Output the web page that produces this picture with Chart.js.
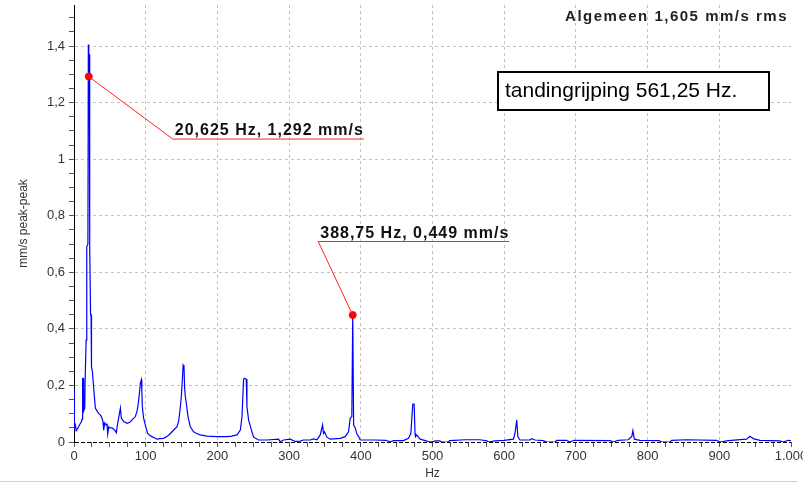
<!DOCTYPE html>
<html>
<head>
<meta charset="utf-8">
<script src="https://cdn.jsdelivr.net/npm/chart.js@4/dist/chart.umd.min.js"></script>
<style>
  html, body { margin: 0; padding: 0; background: #fff; overflow: hidden; }
</style>
</head>
<body>
<canvas id="spectrum" width="803" height="483"></canvas>
<script>
// spectrum (Hz / mm/s peak-peak)
const freqs = [
  0, 0.6, 1.9, 3.1, 5, 7.5, 10, 11.2, 12.0, 12.6, 13.5, 15.0, 15.6, 16.9, 17.5, 18.1, 19.4,
  20.0, 20.625, 21.25, 21.9, 23.1, 23.8, 24.4, 25.6, 27.5, 29.8, 32, 34.5, 37, 39, 40.5,
  41.4, 42.8, 45, 46, 47, 48.4, 50, 53, 55, 56.8, 59, 60.5, 62.3, 64.7, 66, 69.3, 74, 78,
  81, 85.6, 88, 89.3, 91, 92.5, 94, 94.6, 95.3, 97, 99.5, 102.7, 105.5, 108.8, 115.8, 120,
  125, 130, 134.4, 140, 143.7, 146, 147.3, 149.7, 151.5, 152.2, 153.4, 154.3, 155.3, 157,
  159, 162.2, 166.8, 171, 176, 185.5, 199.4, 213.4, 220, 227.3, 232, 234.3, 236.5, 237.5,
  240.3, 241.2, 243.5, 246.8, 250.5, 257.4, 269, 285.3, 287.7, 292.3, 301.6, 308.6, 315.5,
  320, 329.5, 334, 338.8, 343.4, 346.7, 348, 349.4, 352.7, 357.4, 371.3, 378.3, 382.9,
  385.2, 387.5, 388.75, 390, 392.2, 394.6, 396.8, 399.2, 420, 435, 441, 445.6, 459.5,
  466.5, 469.8, 472.5, 474.4, 475.6, 476.3, 478, 480.4, 482.8, 489.8, 496.7, 501.3, 505,
  510, 513, 522.2, 523.6, 545.5, 566, 576, 578, 587, 600, 612.8, 615, 617.5, 619, 622,
  636, 638.4, 643, 654.6, 659.4, 671, 673.3, 687, 692, 697, 748, 752, 759, 773, 778,
  779.5, 781.5, 789.4, 816, 820, 831, 833.6, 854.5, 896, 901, 912.5, 938, 942.7, 947.3,
  956.7, 984.5, 989, 996, 1000
];
const amps = [
  0.185, 0.05, 0.06, 0.04, 0.047, 0.06, 0.07, 0.08, 0.225, 0.225, 0.11, 0.12, 0.225, 0.36, 0.6, 0.69, 0.7,
  1.405, 1.37, 1.37, 0.69, 0.45, 0.45, 0.265, 0.25, 0.19, 0.12, 0.11, 0.10, 0.095, 0.085, 0.07,
  0.042, 0.067, 0.06, 0.065, 0.028, 0.054, 0.05, 0.05, 0.046, 0.042, 0.033, 0.06, 0.085, 0.12, 0.085, 0.072, 0.066, 0.07,
  0.078, 0.09, 0.11, 0.13, 0.166, 0.207, 0.22, 0.18, 0.125, 0.085, 0.06, 0.03, 0.024, 0.019, 0.01, 0.012,
  0.013, 0.02, 0.03, 0.045, 0.054, 0.075, 0.10, 0.16, 0.237, 0.272, 0.266, 0.19, 0.16, 0.13,
  0.09, 0.054, 0.036, 0.03, 0.025, 0.021, 0.019, 0.019, 0.021, 0.025, 0.042, 0.09, 0.22, 0.225,
  0.222, 0.125, 0.078, 0.048, 0.017, 0.007, 0.007, 0.01, 0.001, 0.007, 0.01, 0.002, 0.003,
  0.007, 0.007, 0.011, 0.008, 0.025, 0.06, 0.03, 0.036, 0.017, 0.01, 0.013, 0.019, 0.036,
  0.084, 0.09, 0.449, 0.06, 0.05, 0.028, 0.02, 0.007, 0.007, 0.006, 0.001, 0.005, 0.005,
  0.013, 0.03, 0.134, 0.134, 0.03, 0.019, 0.025, 0.017, 0.01, 0.005, 0, 0.002, 0.004,
  0.004, 0, 0, 0.005, 0.008, 0.008, 0.004, 0, 0.004, 0.006, 0.01, 0.03, 0.078, 0.019, 0.007,
  0.007, 0.012, 0.007, 0.005, 0, 0, 0.006, 0.006, 0, 0.006, 0.005, 0, 0.006, 0.008, 0.02,
  0.04, 0.01, 0.006, 0.005, 0, 0, 0.006, 0.008, 0.006, 0, 0.005, 0.01, 0.02, 0.012,
  0.006, 0.004, 0, 0.006, 0.005
];

// marked peaks
const peakFreqs = [20.625, 388.75];
const peakAmps = [1.292, 0.449];
const peakLabels = ["20,625 Hz, 1,292 mm/s", "388,75 Hz, 0,449 mm/s"];

const overallText = "Algemeen 1,605 mm/s rms";
const noteText = "tandingrijping 561,25 Hz.";

const xTickValues = [0, 100, 200, 300, 400, 500, 600, 700, 800, 900, 1000];
const xTickLabels = ["0", "100", "200", "300", "400", "500", "600", "700", "800", "900", "1.000"];
const yTickValues = [0, 0.2, 0.4, 0.6, 0.8, 1, 1.2, 1.4];
const yTickLabels = ["0", "0,2", "0,4", "0,6", "0,8", "1", "1,2", "1,4"];

const FONT = "'Liberation Sans', Arial, sans-serif";
const GRID = "#c4c4c4";

function findTick(values, v) {
  return values.findIndex((t) => Math.abs(t - v) < 1e-6);
}

// leader line offsets from each marker to the start of its underline (px)
const leaderOffsets = [
  { dx: 84, dy: 62.5 },
  { dx: -34.5, dy: -73.5 },
];

const annotate = {
  id: "annotate",
  afterDatasetsDraw(chart) {
    const { ctx, chartArea, scales } = chart;
    ctx.save();

    // overall value, top right
    ctx.font = "bold 15px " + FONT;
    ctx.letterSpacing = "1.5px";
    ctx.fillStyle = "#222";
    ctx.textAlign = "right";
    ctx.textBaseline = "alphabetic";
    ctx.fillText(overallText, chartArea.right - 3, 21);

    // note box
    ctx.letterSpacing = "0px";
    ctx.fillStyle = "#fff";
    ctx.fillRect(498, 72, 271, 38);
    ctx.lineWidth = 2;
    ctx.strokeStyle = "#000";
    ctx.strokeRect(498, 72, 271, 38);
    ctx.fillStyle = "#000";
    ctx.textAlign = "left";
    ctx.font = "21px " + FONT;
    ctx.fillText(noteText, 505, 97);

    // peak labels with leader lines
    ctx.font = "bold 16px " + FONT;
    ctx.letterSpacing = "1px";
    peakFreqs.forEach((f, i) => {
      const px = scales.x.getPixelForValue(f);
      const py = scales.y.getPixelForValue(peakAmps[i]);
      const ax = px + leaderOffsets[i].dx;
      const ay = py + leaderOffsets[i].dy;
      const w = ctx.measureText(peakLabels[i]).width + 2;
      ctx.strokeStyle = "#ff2020";
      ctx.lineWidth = 1;
      ctx.beginPath();
      ctx.moveTo(px, py);
      ctx.lineTo(ax, ay);
      ctx.lineTo(ax + w, ay);
      ctx.stroke();
      ctx.fillStyle = "#111";
      ctx.fillText(peakLabels[i], ax + 2, ay - 4);
    });

    // frame line at the bottom
    ctx.strokeStyle = "#d0d0d0";
    ctx.lineWidth = 1;
    ctx.beginPath();
    ctx.moveTo(0, 481.5);
    ctx.lineTo(797, 481.5);
    ctx.stroke();
    ctx.restore();
  },
};

new Chart(document.getElementById("spectrum"), {
  type: "line",
  data: {
    datasets: [
      {
        data: freqs.map((f, i) => ({ x: f, y: amps[i] })),
        borderColor: "#0000ff",
        borderWidth: 1.2,
        pointRadius: 0,
        tension: 0,
        order: 2,
      },
      {
        data: peakFreqs.map((f, i) => ({ x: f, y: peakAmps[i] })),
        showLine: false,
        pointRadius: 3.5,
        pointBackgroundColor: "#ff0000",
        pointBorderColor: "#ff0000",
        order: 1,
      },
    ],
  },
  options: {
    responsive: false,
    devicePixelRatio: 1,
    animation: false,
    layout: { padding: { top: 5, right: 12, left: 0, bottom: 0 } },
    plugins: { legend: { display: false }, tooltip: { enabled: false } },
    scales: {
      x: {
        type: "linear",
        min: 0,
        max: 1000,
        afterFit(scale) {
          scale.height = 41;
          scale.paddingLeft = 0;
          scale.paddingRight = 0;
        },
        ticks: {
          stepSize: 25,
          autoSkip: false,
          maxRotation: 0,
          padding: 2,
          color: "#333",
          font: { family: FONT, size: 13 },
          callback: (v) => {
            const i = findTick(xTickValues, v);
            return i < 0 ? "" : xTickLabels[i];
          },
        },
        grid: {
          color: (c) => {
            if (!c.tick) return "transparent";
            const v = c.tick.value;
            return v % 100 === 0 && v > 0 && v < 1000 ? GRID : "transparent";
          },
          tickColor: "#555",
          tickLength: 5,
        },
        border: { display: false, dash: [3, 3] },
        title: {
          display: true,
          text: "Hz",
          color: "#333",
          font: { family: FONT, size: 12 },
          padding: { top: 0, bottom: 2.3 },
        },
      },
      y: {
        min: 0,
        max: 1.545,
        afterFit(scale) {
          scale.width = 74;
          scale.paddingTop = 0;
          scale.paddingBottom = 0;
        },
        ticks: {
          stepSize: 0.05,
          includeBounds: false,
          autoSkip: false,
          padding: 4,
          color: "#333",
          font: { family: FONT, size: 13 },
          callback: (v) => {
            const i = findTick(yTickValues, v);
            return i < 0 ? "" : yTickLabels[i];
          },
        },
        grid: {
          color: (c) => {
            if (!c.tick) return "transparent";
            const v = c.tick.value;
            if (Math.abs(v) < 1e-9) return "#000";
            return findTick(yTickValues, v) >= 0 ? GRID : "transparent";
          },
          tickColor: "#555",
          tickLength: 5,
        },
        border: {
          display: true,
          color: "#000",
          width: 1,
          dash: (c) => (c.tick && Math.abs(c.tick.value) < 1e-9 ? [4, 2] : [3, 3]),
        },
        title: {
          display: true,
          text: "mm/s peak-peak",
          color: "#333",
          font: { family: FONT, size: 12 },
          padding: { top: 16.8, bottom: 0 },
        },
      },
    },
  },
  plugins: [annotate],
});
</script>
</body>
</html>
